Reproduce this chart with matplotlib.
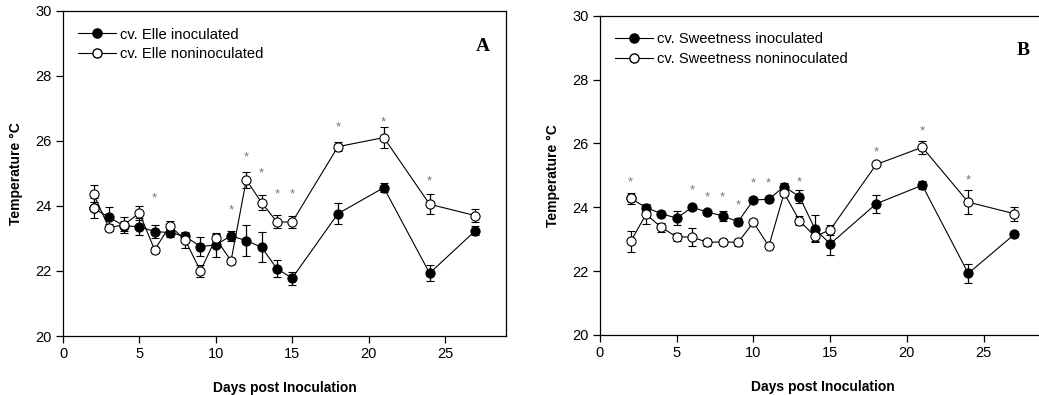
import matplotlib
matplotlib.use("Agg")
import matplotlib.pyplot as plt
from matplotlib.lines import Line2D

plt.rcParams['font.family'] = ['Liberation Sans', 'DejaVu Sans']

days = [2, 3, 4, 5, 6, 7, 8, 9, 10, 11, 12, 13, 14, 15, 18, 21, 24, 27]

# Panel A: cv. Elle
elle_inoc = [23.93, 23.65, 23.39, 23.36, 23.21, 23.18, 23.06, 22.75, 22.80, 23.08,
             22.93, 22.73, 22.07, 21.78, 23.76, 24.56, 21.93, 23.24]
elle_inoc_err = [0.30, 0.32, 0.15, 0.27, 0.19, 0.13, 0.10, 0.30, 0.38, 0.15,
                 0.47, 0.47, 0.27, 0.20, 0.32, 0.14, 0.25, 0.15]
elle_non = [24.37, 23.33, 23.42, 23.78, 22.65, 23.39, 22.95, 22.00, 23.00, 22.31,
            24.80, 24.10, 23.51, 23.50, 25.82, 26.10, 24.05, 23.70]
elle_non_err = [0.26, 0.10, 0.25, 0.22, 0.10, 0.15, 0.25, 0.18, 0.15, 0.10,
                0.25, 0.22, 0.20, 0.18, 0.13, 0.32, 0.30, 0.19]
elle_star_days = [6, 11, 12, 13, 14, 15, 18, 21, 24]
elle_star_y = [24.22, 23.87, 25.50, 25.01, 24.34, 24.34, 26.42, 26.58, 24.75]

# Panel B: cv. Sweetness
sw_inoc = [24.28, 23.99, 23.80, 23.66, 24.00, 23.85, 23.73, 23.55, 24.23, 24.25,
           24.65, 24.33, 23.33, 22.85, 24.11, 24.69, 21.93, 23.15]
sw_inoc_err = [0.17, 0.10, 0.08, 0.23, 0.07, 0.08, 0.15, 0.10, 0.10, 0.07,
               0.10, 0.20, 0.43, 0.33, 0.28, 0.13, 0.30, 0.08]
sw_non = [22.93, 23.78, 23.37, 23.07, 23.07, 22.90, 22.92, 22.90, 23.53, 22.78,
          24.44, 23.58, 23.09, 23.29, 25.34, 25.88, 24.16, 23.80]
sw_non_err = [0.32, 0.30, 0.15, 0.12, 0.27, 0.12, 0.10, 0.10, 0.10, 0.05,
              0.10, 0.15, 0.15, 0.15, 0.05, 0.20, 0.37, 0.22]
sw_star_days = [2, 6, 7, 8, 9, 10, 11, 13, 18, 21, 24]
sw_star_y = [24.79, 24.53, 24.32, 24.30, 24.05, 24.74, 24.74, 24.79, 25.73, 26.39, 24.84]

xticks = [0, 5, 10, 15, 20, 25]
yticks = [20, 22, 24, 26, 28, 30]

W, H = 1039, 395
fig = plt.figure(figsize=(W / 100, H / 100), dpi=100)

def px_axes(x0, y_top, x1, y_bot):
    return [x0 / W, (H - y_bot) / H, (x1 - x0) / W, (y_bot - y_top) / H]

axA = fig.add_axes(px_axes(63, 10.7, 506, 336))
axB = fig.add_axes(px_axes(600, 15.7, 1045, 335))

def draw(ax, inoc, inoc_err, non, non_err, sdays, sy, lab_inoc, lab_non, letter, letter_pos):
    ms = 6.6
    ax.errorbar(days, inoc, yerr=inoc_err, fmt='-o', color='black', lw=0.8,
                ms=ms, mfc='black', mec='black', mew=0.8, ecolor='black',
                elinewidth=0.9, capsize=3.2, capthick=0.9, zorder=3)
    ax.errorbar(days, non, yerr=non_err, fmt='-o', color='black', lw=0.8,
                ms=ms, mfc='white', mec='black', mew=0.8, ecolor='black',
                elinewidth=0.9, capsize=3.2, capthick=0.9, zorder=4)
    # first inoculated point rendered hollow in the original
    ax.plot(days[:1], inoc[:1], 'o', ms=ms, mfc='white', mec='black', mew=0.8, zorder=5)
    for d, y in zip(sdays, sy):
        ax.text(d, y, '*', color='#777777', ha='center', va='center', fontsize=9.5, zorder=6)
    ax.set_xlim(0, 29)
    ax.set_ylim(20, 30)
    ax.set_xticks(xticks)
    ax.set_yticks(yticks)
    ax.tick_params(direction='out', length=5, width=0.9, labelsize=10.5, pad=3)
    for s in ax.spines.values():
        s.set_linewidth(0.9)
    ax.set_xlabel('Days post Inoculation', fontsize=10, fontweight='bold', labelpad=14)
    ax.set_ylabel('Temperature \u00b0C', fontsize=10, fontweight='bold', labelpad=9)
    handles = [Line2D([], [], color='black', lw=0.8, marker='o', ms=ms, mfc='black', mec='black'),
               Line2D([], [], color='black', lw=0.8, marker='o', ms=ms, mfc='white', mec='black')]
    ax.legend(handles, [lab_inoc, lab_non], loc='upper left', bbox_to_anchor=(0.01, 0.98),
              frameon=False, fontsize=10.6, handlelength=2.6, handletextpad=0.3,
              labelspacing=0.4, borderaxespad=0.3)
    ax.text(letter_pos[0], letter_pos[1], letter, transform=ax.transAxes, ha='center', va='center',
            fontsize=14, fontweight='bold', family=['Liberation Serif', 'DejaVu Serif'])

draw(axA, elle_inoc, elle_inoc_err, elle_non, elle_non_err, elle_star_days, elle_star_y,
     'cv. Elle inoculated', 'cv. Elle noninoculated', 'A', (0.948, 0.89))
draw(axB, sw_inoc, sw_inoc_err, sw_non, sw_non_err, sw_star_days, sw_star_y,
     'cv. Sweetness inoculated', 'cv. Sweetness noninoculated', 'B', (0.95, 0.89))

fig.savefig('out.png', dpi=100)
